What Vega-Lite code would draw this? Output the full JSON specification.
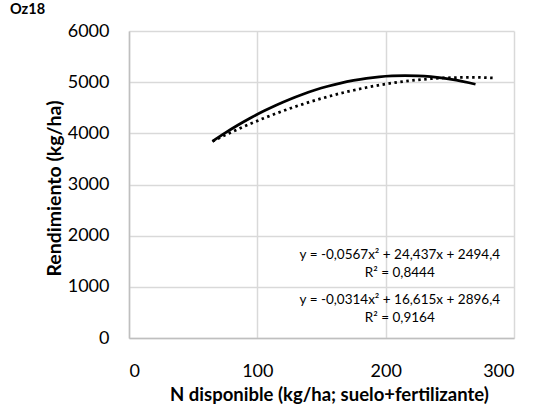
{
  "$schema": "https://vega.github.io/schema/vega-lite/v6.json",
  "width": 385,
  "height": 307,
  "autosize": {"type": "none"},
  "padding": {"left": 129, "top": 31, "right": 20, "bottom": 74},
  "background": "white",
  "title": {"text": "Oz18", "anchor": "start", "frame": "group", "dx": -119, "offset": 5, "fontSize": 14.5, "font": "Lato", "fontWeight": "bold", "color": "black"},
  "config": {
    "view": {"stroke": null},
    "font": "Lato",
    "axis": {"labelFont": "Lato", "titleFont": "Lato", "labelColor": "black", "titleColor": "black", "gridColor": "#d9d9d9", "gridWidth": 1.5, "domainColor": "#bfbfbf", "domainWidth": 1.5, "ticks": false}
  },
  "datasets": {
    "curves": [
      {"s": "a", "x": 65, "y": 3843}, {"s": "a", "x": 75, "y": 4008}, {"s": "a", "x": 85, "y": 4162}, {"s": "a", "x": 95, "y": 4304}, {"s": "a", "x": 105, "y": 4435}, {"s": "a", "x": 115, "y": 4555}, {"s": "a", "x": 125, "y": 4663}, {"s": "a", "x": 135, "y": 4760}, {"s": "a", "x": 145, "y": 4846}, {"s": "a", "x": 155, "y": 4920}, {"s": "a", "x": 165, "y": 4983}, {"s": "a", "x": 175, "y": 5034}, {"s": "a", "x": 185, "y": 5075}, {"s": "a", "x": 195, "y": 5104}, {"s": "a", "x": 205, "y": 5121}, {"s": "a", "x": 215, "y": 5127}, {"s": "a", "x": 225, "y": 5122}, {"s": "a", "x": 235, "y": 5106}, {"s": "a", "x": 245, "y": 5078}, {"s": "a", "x": 255, "y": 5039}, {"s": "a", "x": 265, "y": 4988}, {"s": "a", "x": 270, "y": 4959},
      {"s": "b", "x": 65, "y": 3844}, {"s": "b", "x": 75, "y": 3966}, {"s": "b", "x": 85, "y": 4082}, {"s": "b", "x": 95, "y": 4191}, {"s": "b", "x": 105, "y": 4295}, {"s": "b", "x": 115, "y": 4392}, {"s": "b", "x": 125, "y": 4483}, {"s": "b", "x": 135, "y": 4567}, {"s": "b", "x": 145, "y": 4645}, {"s": "b", "x": 155, "y": 4717}, {"s": "b", "x": 165, "y": 4783}, {"s": "b", "x": 175, "y": 4842}, {"s": "b", "x": 185, "y": 4896}, {"s": "b", "x": 195, "y": 4942}, {"s": "b", "x": 205, "y": 4983}, {"s": "b", "x": 215, "y": 5017}, {"s": "b", "x": 225, "y": 5045}, {"s": "b", "x": 235, "y": 5067}, {"s": "b", "x": 245, "y": 5082}, {"s": "b", "x": 255, "y": 5091}, {"s": "b", "x": 265, "y": 5094}, {"s": "b", "x": 275, "y": 5091}, {"s": "b", "x": 285, "y": 5081}
    ],
    "labels": [
      {"x": 211, "y": 1622, "t": "y = -0,0567x² + 24,437x + 2494,4"},
      {"x": 211, "y": 1270, "t": "R² = 0,8444"},
      {"x": 211, "y": 743, "t": "y = -0,0314x² + 16,615x + 2896,4"},
      {"x": 211, "y": 391, "t": "R² = 0,9164"}
    ]
  },
  "layer": [
    {
      "data": {"name": "curves"},
      "transform": [{"filter": "datum.s === 'a'"}],
      "mark": {"type": "line", "color": "black", "strokeWidth": 2.75, "interpolate": "monotone"},
      "encoding": {
        "x": {"field": "x", "type": "quantitative", "scale": {"domain": [0, 300], "nice": false}, "axis": {"values": [0, 100, 200, 300], "title": "N disponible (kg/ha; suelo+fertilizante)", "labelFontSize": 18, "labelPadding": 24, "titleFontSize": 18.5, "titleFontWeight": "bold", "titlePadding": 5, "titleX": 200, "titleAlign": "center"}},
        "y": {"field": "y", "type": "quantitative", "scale": {"domain": [0, 6000], "nice": false}, "axis": {"values": [0, 1000, 2000, 3000, 4000, 5000, 6000], "format": "d", "title": "Rendimiento (kg/ha)", "labelFontSize": 18, "labelPadding": 20, "titleFontSize": 19.5, "titleFontWeight": "bold", "titleX": -75, "titleY": 157, "titleBaseline": "middle"}}
      }
    },
    {
      "data": {"name": "curves"},
      "transform": [{"filter": "datum.s === 'b'"}],
      "mark": {"type": "line", "color": "black", "strokeWidth": 2.75, "strokeDash": [2.5, 3.5], "interpolate": "monotone"},
      "encoding": {
        "x": {"field": "x", "type": "quantitative"},
        "y": {"field": "y", "type": "quantitative"}
      }
    },
    {
      "data": {"name": "labels"},
      "mark": {"type": "text", "fontSize": 13.5, "font": "Lato", "color": "black", "align": "center", "baseline": "middle"},
      "encoding": {
        "x": {"field": "x", "type": "quantitative"},
        "y": {"field": "y", "type": "quantitative"},
        "text": {"field": "t"}
      }
    }
  ]
}
